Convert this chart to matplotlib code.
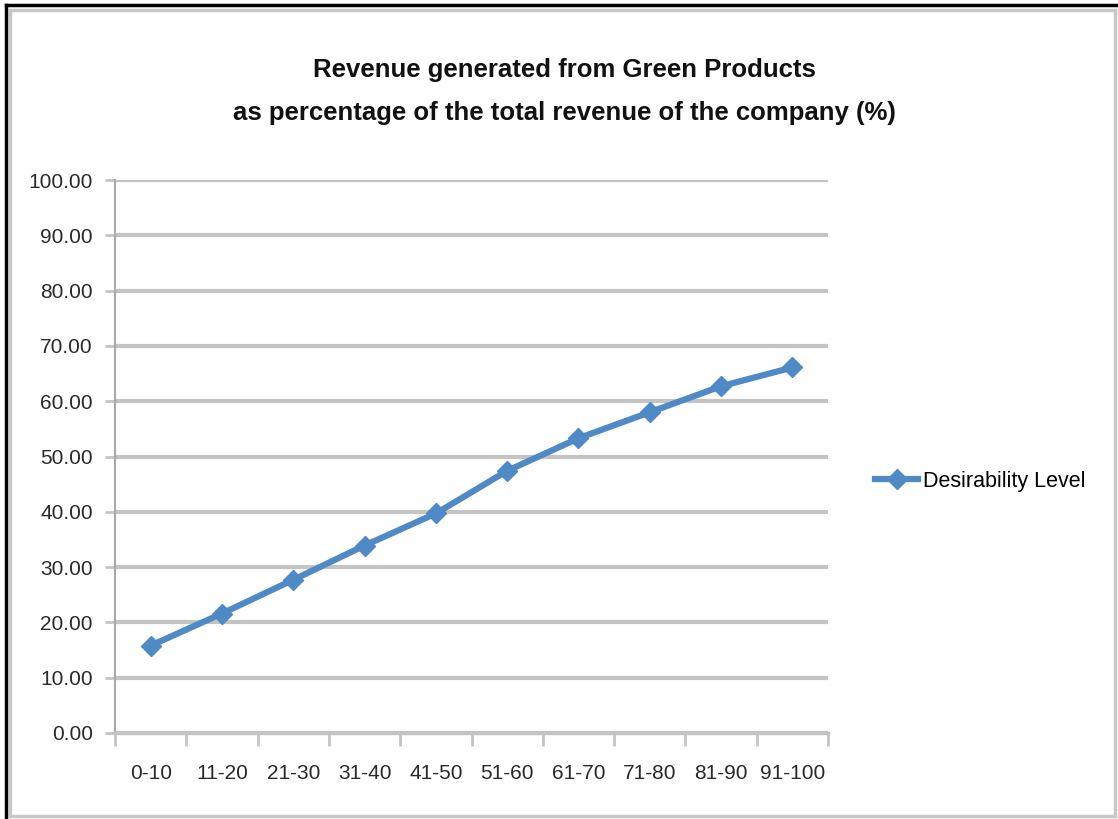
import matplotlib
matplotlib.use("Agg")
import matplotlib.pyplot as plt
from matplotlib.patches import Rectangle
from matplotlib.lines import Line2D

categories = ["0-10", "11-20", "21-30", "31-40", "41-50",
              "51-60", "61-70", "71-80", "81-90", "91-100"]
desirability = [15.8, 21.6, 27.7, 33.9, 39.7, 47.4, 53.3, 58.0, 62.7, 66.1]
y_ticks = [0, 10, 20, 30, 40, 50, 60, 70, 80, 90, 100]

blue = "#4f8ac6"
grid_grey = "#c4c4c4"
plt.rcParams["font.family"] = ["Liberation Sans", "DejaVu Sans"]

fig = plt.figure(figsize=(11.18, 8.19), dpi=100)
ax = fig.add_axes([115 / 1118, 1 - 733 / 819, (828 - 115) / 1118, (733 - 180) / 819])

x = list(range(len(categories)))
ax.plot(x, desirability, color=blue, lw=4.5, marker="D", ms=10,
        markeredgecolor=blue, label="Desirability Level", zorder=3)

ax.set_xlim(-0.5, len(categories) - 0.5)
ax.set_ylim(0, 100)
ax.set_yticks(y_ticks)
ax.set_yticklabels([f"{v:.2f}" for v in y_ticks], fontsize=15, color="#2a2a2a")
ax.set_xticks(x)
ax.set_xticklabels(categories, fontsize=15, color="#2a2a2a")
ax.tick_params(axis="x", length=0, pad=22)
ax.tick_params(axis="y", length=7, width=2, color=grid_grey, pad=9)
# category boundary ticks
ax.set_xticks([i - 0.5 for i in range(len(categories) + 1)], minor=True)
ax.tick_params(axis="x", which="minor", length=9, width=2, color=grid_grey)

ax.grid(axis="y", color=grid_grey, lw=3)
ax.set_axisbelow(True)
for side in ["top", "right"]:
    ax.spines[side].set_visible(False)
ax.spines["left"].set_color("#a8a8a8")
ax.spines["left"].set_linewidth(1.5)
ax.spines["bottom"].set_color(grid_grey)
ax.spines["bottom"].set_linewidth(2.5)

fig.text(564 / 1118, 1 - 70 / 819, "Revenue generated from Green Products",
         ha="center", va="center", fontsize=18.5, fontweight="bold", color="#111111")
fig.text(564 / 1118, 1 - 113 / 819, "as percentage of the total revenue of the company (%)",
         ha="center", va="center", fontsize=18.5, fontweight="bold", color="#111111")

handle = Line2D([], [], color=blue, lw=4.5, marker="D", ms=10, markeredgecolor=blue)
fig.legend([handle], ["Desirability Level"], loc="center left",
           bbox_to_anchor=(856 / 1118, 1 - 481 / 819), frameon=False,
           fontsize=15.5, handlelength=2.0, handletextpad=0.2)

# outer frame
fig.patches.append(Rectangle((10 / 1118, 3 / 819), 1105 / 1118, 806 / 819,
                             transform=fig.transFigure, fill=False,
                             edgecolor="#c8c8c8", lw=2.5))
fig.add_artist(Line2D([6 / 1118, 6 / 1118], [0, 1 - 5 / 819], color="black", lw=2.5))
fig.add_artist(Line2D([6 / 1118, 1], [1 - 5 / 819, 1 - 5 / 819], color="black", lw=2.5))

fig.savefig("out.png", dpi=100)
